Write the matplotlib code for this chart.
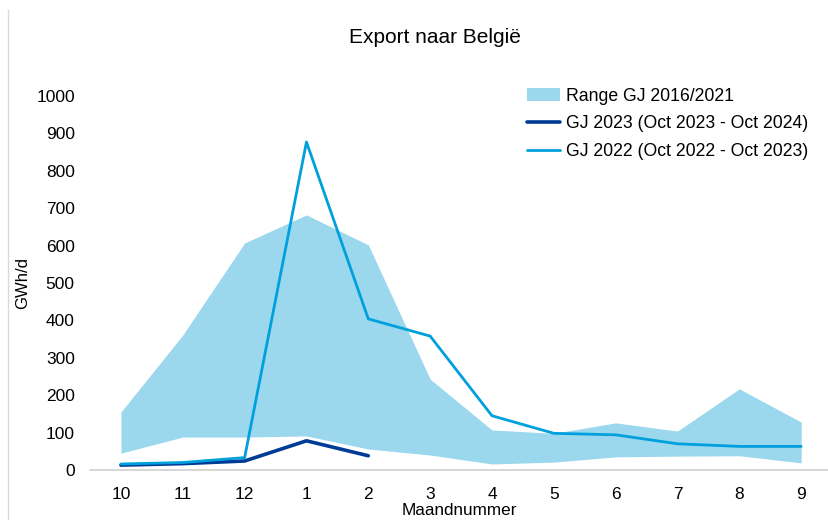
import numpy as np
import matplotlib.pyplot as plt
from matplotlib.lines import Line2D

plt.rcParams['font.family'] = ['Liberation Sans', 'DejaVu Sans']

# maanden van het gasjaar (okt - sep)
months = ['10', '11', '12', '1', '2', '3', '4', '5', '6', '7', '8', '9']
range_low = [45, 88, 88, 91, 56, 40, 16, 21, 35, 37, 38, 19]
range_high = [155, 361, 607, 682, 602, 243, 107, 98, 126, 104, 217, 128]
gj2022 = [16, 20, 33, 877, 404, 358, 145, 98, 94, 70, 63, 63]
gj2023 = [13, 17, 24, 78, 38]

x = np.arange(len(months))

fig = plt.figure(figsize=(8.29, 5.2), dpi=100)
ax = fig.add_axes([0.1086, 0.0962, 0.8914, 0.7192])

ax.fill_between(x, range_low, range_high, color='#9BD8EE', linewidth=0,
                label='Range GJ 2016/2021')
ax.plot(x[:len(gj2023)], gj2023, color='#003C96', linewidth=2.6,
        solid_capstyle='round', label='GJ 2023 (Oct 2023 - Oct 2024)')
ax.plot(x, gj2022, color='#00A0DC', linewidth=2.0,
        solid_capstyle='round', label='GJ 2022 (Oct 2022 - Oct 2023)')

ax.set_xlim(-0.5, 11.45)
ax.set_ylim(0, 1000)
ax.set_yticks(np.arange(0, 1001, 100))
ax.set_xticks(x)
ax.set_xticklabels(months)
ax.tick_params(axis='both', length=0, labelsize=12.5)
ax.tick_params(axis='x', pad=12)
ax.tick_params(axis='y', pad=11)

for s in ['top', 'right', 'left']:
    ax.spines[s].set_visible(False)
ax.spines['bottom'].set_color('#D0D0D0')
ax.spines['bottom'].set_linewidth(1.2)

ax.set_xlabel('Maandnummer', fontsize=12.3, labelpad=1)
ax.set_ylabel('GWh/d', fontsize=12, labelpad=4)
fig.text(0.525, 0.927, 'Export naar België', ha='center', va='center', fontsize=15)

ax.legend(loc='upper right', bbox_to_anchor=(0.993, 1.065), frameon=False,
          fontsize=12.7, handlelength=1.9, handletextpad=0.3, labelspacing=0.6)

# dunne grijze rand links
fig.add_artist(Line2D([0.0097, 0.0097], [0, 0.98], color='#D9D9D9', linewidth=1))

fig.savefig('out.png', dpi=100)
